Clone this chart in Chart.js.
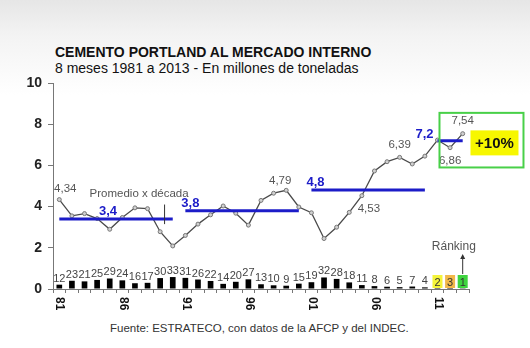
<!DOCTYPE html>
<html><head><meta charset="utf-8">
<script src="https://cdn.jsdelivr.net/npm/chart.js@4"></script>
<style>
html,body{margin:0;padding:0;}
body{width:530px;height:348px;overflow:hidden;position:relative;background:linear-gradient(#e6e6e6 0px,#f3f3f3 35px,#ffffff 95px,#ffffff 100%);font-family:"Liberation Sans",Arial,sans-serif;}
#c{position:absolute;left:0;top:0;}
.t{position:absolute;left:55px;white-space:nowrap;color:#111;line-height:16px;}
</style></head><body>
<div class="t" style="top:44px;font-size:14px;font-weight:bold;">CEMENTO PORTLAND AL MERCADO INTERNO</div>
<div class="t" style="top:60px;font-size:14px;">8 meses 1981 a 2013 - En millones de toneladas</div>
<div class="t" style="left:110px;top:321px;font-size:11.5px;color:#333;line-height:14px;">Fuente: ESTRATECO, con datos de la AFCP y del INDEC.</div>
<canvas id="c" width="530" height="348"></canvas>
<script>
const years = ['1981','1982','1983','1984','1985','1986','1987','1988','1989','1990','1991','1992','1993','1994','1995','1996','1997','1998','1999','2000','2001','2002','2003','2004','2005','2006','2007','2008','2009','2010','2011','2012','2013'];
const tickLabels = ['81','','','','','86','','','','','91','','','','','96','','','','','01','','','','','06','','','','','11','',''];
const consumo = [4.34,3.55,3.66,3.42,2.90,3.47,3.94,3.90,2.78,2.09,2.60,3.15,3.60,4.03,3.68,3.10,4.30,4.65,4.79,3.98,3.70,2.45,3.00,3.72,4.53,5.73,6.18,6.39,6.07,6.45,7.23,6.86,7.54];
const ranking = [12,23,21,25,29,24,16,17,30,33,31,26,22,14,20,27,13,10,9,15,19,32,28,18,11,8,6,5,7,4,2,3,1];
const rankingBars = [0.21,0.40,0.37,0.44,0.51,0.42,0.28,0.30,0.53,0.58,0.54,0.46,0.39,0.25,0.35,0.47,0.23,0.18,0.16,0.26,0.33,0.56,0.49,0.32,0.19,0.14,0.11,0.09,0.12,0.08,0.05,0.06,0.04];
const decadeAvg = [3.4,3.8,4.8,7.2];
const decadeAvgText = ['3,4','3,8','4,8','7,2'];
const decadeStart = [0,10,20,30];
const decadeEnd = [9,19,29,32];
const valueLabels = {0:'4,34',18:'4,79',24:'4,53',27:'6,39',31:'6,86',32:'7,54'};
const topRankColors = {1:'#3fd43f',2:'#f4f43a',3:'#f2b84a'};
const yTicks = [0,2,4,6,8,10];

const avgDatasets = decadeAvg.map((v,k)=>({
  type:'line',
  data: years.map((y,i)=> (i>=decadeStart[k] && i<=decadeEnd[k]) ? v : null),
  borderColor:'#1c1cc8', borderWidth:3, pointRadius:0, spanGaps:false, order:0, fill:false
}));

const annot = {
  id:'annot',
  afterDatasetsDraw(chart){
    const ctx = chart.ctx, xs = chart.scales.x, ys = chart.scales.y;
    const X = i=>xs.getPixelForValue(i), Y = v=>ys.getPixelForValue(v);
    ctx.save();
    // rank labels
    ctx.font = '11px "Liberation Sans", Arial, sans-serif';
    ctx.textAlign='center'; ctx.textBaseline='alphabetic';
    ranking.forEach((r,i)=>{
      const x = X(i);
      if (topRankColors[r]) {
        ctx.fillStyle = topRankColors[r];
        ctx.fillRect(x-5, Y(0)-14, 10, 13);
        ctx.fillStyle = '#333';
        ctx.fillText(String(r), x, Y(0)-3);
      } else {
        ctx.fillStyle = '#444';
        ctx.fillText(String(r), x, Y(rankingBars[i])-3);
      }
    });
    // value labels
    ctx.fillStyle='#555';
    ctx.font = '11.5px "Liberation Sans", Arial, sans-serif';
    const off = {0:[6,-8],18:[-6,-6],24:[7,16],27:[0,-9],31:[0,16],32:[0,-10]};
    Object.keys(valueLabels).forEach(k=>{
      const i=+k; ctx.fillText(valueLabels[k], X(i)+off[i][0], Y(consumo[i])+off[i][1]);
    });
    // decade avg labels
    ctx.fillStyle='#1c1cc8';
    ctx.font='bold 13px "Liberation Sans", Arial, sans-serif';
    const aoff=[[-8,-4],[-4,-4],[-5,-4],[-4,-3]];
    decadeAvg.forEach((v,k)=>{
      let xi = k===3 ? X(decadeStart[k]) : (k===0? (X(decadeStart[k])+X(decadeEnd[k]))/2 : X(decadeStart[k]));
      ctx.textAlign = k===0 ? 'center' : (k===3 ? 'right' : 'left');
      ctx.fillText(decadeAvgText[k], xi+aoff[k][0], Y(v)+aoff[k][1]);
    });
    // Promedio x decada
    ctx.fillStyle='#555'; ctx.textAlign='left';
    ctx.font='11.5px "Liberation Sans", Arial, sans-serif';
    ctx.fillText('Promedio x década', X(2.4), Y(4.48));
    ctx.strokeStyle='#333'; ctx.lineWidth=1;
    ctx.beginPath(); ctx.moveTo(X(8.35), Y(4.1)); ctx.lineTo(X(8.35), Y(3.15)); ctx.stroke();
    // Ranking label + arrow
    ctx.font='12px "Liberation Sans", Arial, sans-serif';
    ctx.textAlign='center';
    ctx.fillText('Ránking', X(31.3), Y(1.9));
    const ax = X(32);
    ctx.beginPath(); ctx.moveTo(ax, Y(0)-15); ctx.lineTo(ax, Y(0)-33); ctx.stroke();
    ctx.fillStyle='#333';
    ctx.beginPath(); ctx.moveTo(ax, Y(0)-35); ctx.lineTo(ax-2.5, Y(0)-30); ctx.lineTo(ax+2.5, Y(0)-30); ctx.closePath(); ctx.fill();
    // green box and +10%
    const bl = X(30)+2, bt = Y(8.55), bb = Y(5.9);
    ctx.strokeStyle='#48d048'; ctx.lineWidth=2;
    ctx.strokeRect(bl, bt, 84, bb-bt);
    ctx.fillStyle='#f7f700';
    ctx.fillRect(bl+31, Y(7.7), 48, 25);
    ctx.fillStyle='#111';
    ctx.font='bold 15px "Liberation Sans", Arial, sans-serif';
    ctx.textAlign='center'; ctx.textBaseline='middle';
    ctx.fillText('+10%', bl+55, Y(7.7)+13);
    // x tick labels rotated clockwise
    ctx.font='bold 12px "Liberation Sans", Arial, sans-serif';
    ctx.fillStyle='#111'; ctx.textAlign='left'; ctx.textBaseline='middle';
    tickLabels.forEach((t,i)=>{
      if(!t) return;
      ctx.save(); ctx.translate(X(i)+0.5, Y(0)+8); ctx.rotate(Math.PI/2);
      ctx.fillText(t, 0, 0); ctx.restore();
    });
    ctx.restore();
  }
};

new Chart(document.getElementById('c'), {
  data:{
    labels: years,
    datasets:[
      ...avgDatasets,
      {type:'line', data:consumo, borderColor:'#4a4a4a', borderWidth:1.3, tension:0,
       pointRadius:2, pointBackgroundColor:'#d0d0d0', pointBorderColor:'#777', pointBorderWidth:1, order:1, fill:false},
      {type:'bar', data:rankingBars, backgroundColor:'#000', barPercentage:0.45, categoryPercentage:1, order:2}
    ]
  },
  options:{
    responsive:false, animation:false, events:[],
    layout:{padding:{left:0,right:61,top:83,bottom:29}},
    plugins:{legend:{display:false}, tooltip:{enabled:false}, title:{display:false}},
    scales:{
      x:{
        afterFit(s){ s.height=30; },
        ticks:{display:false},
        grid:{drawOnChartArea:false, tickLength:4, color:'#777'},
        border:{color:'#777'}
      },
      y:{
        min:0, max:10,
        afterFit(s){ s.width=53; },
        afterBuildTicks(s){ s.ticks = yTicks.map(v=>({value:v})); },
        ticks:{font:{family:'"Liberation Sans", Arial, sans-serif', size:14, weight:'bold'}, color:'#222', padding:6},
        grid:{drawOnChartArea:false, tickLength:5, color:'#777'},
        border:{color:'#777'}
      }
    }
  },
  plugins:[annot]
});
</script>
</body></html>
